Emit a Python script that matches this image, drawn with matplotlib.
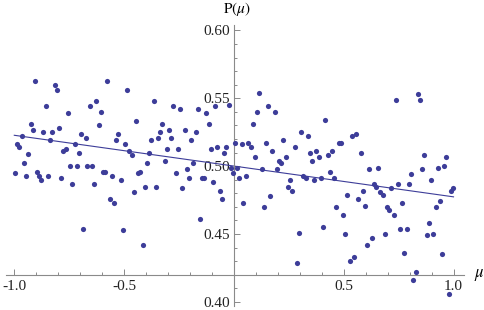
import numpy as np
import matplotlib
matplotlib.use("Agg")
import matplotlib.pyplot as plt
from matplotlib.ticker import FixedLocator, FixedFormatter, MultipleLocator

plt.rcParams['font.family'] = ['Liberation Serif', 'DejaVu Serif']
plt.rcParams['mathtext.fontset'] = 'stix'

# data
mu = [-0.989, -0.979, -0.966, -0.936, -0.925, -0.916, -0.907, -0.868, -0.857, -0.836,
      -0.827, -0.816, -0.806, -0.796, -0.777, -0.766, -0.757, -0.725, -0.707, -0.696,
      -0.675, -0.657, -0.627, -0.616, -0.607, -0.577, -0.537, -0.526, -0.496, -0.487,
      -0.476, -0.465, -0.446, -0.385, -0.376, -0.365, -0.344, -0.337, -0.326, -0.315,
      -0.305, -0.296, -0.286, -0.276, -0.256, -0.245, -0.224, -0.195, -0.174, -0.165,
      -0.126, -0.115, -0.106, -0.085, -0.076, -0.045, -0.035, -0.024, 0.006, 0.036,
      -0.998, -0.956, -0.947, -0.897, -0.886, -0.877, -0.847, -0.787, -0.746, -0.736,
      -0.716, -0.686, -0.668, -0.646, -0.636, -0.596, -0.586, -0.566, -0.555, -0.546,
      -0.515, -0.505, -0.455, -0.435, -0.426, -0.415, -0.405, -0.394, -0.355, -0.265,
      -0.235, -0.214, -0.204, -0.185, -0.154, -0.145, -0.135, -0.094, -0.065, -0.054,
      -0.015, 0.015, -0.005, 0.025, 0.043, 0.055, 0.066, 0.077, 0.086, 0.096,
      0.105, 0.116, 0.146, 0.155, 0.175, 0.186, 0.205, 0.216, 0.225, 0.236,
      0.277, 0.306, 0.336, 0.347, 0.356, 0.375, 0.386, 0.416, 0.427, 0.447,
      0.477, 0.486, 0.536, 0.556, 0.577, 0.737, 0.837, 0.847, 0.867, 0.967,
      0.127, 0.136, 0.166, 0.195, 0.246, 0.257, 0.266, 0.286, 0.296, 0.316,
      0.327, 0.366, 0.397, 0.407, 0.436, 0.457, 0.466, 0.497, 0.507, 0.516,
      0.527, 0.547, 0.566, 0.587, 0.597, 0.606, 0.617, 0.628, 0.637, 0.647,
      0.658, 0.667, 0.678, 0.687, 0.697, 0.706, 0.717, 0.728, 0.747, 0.756,
      0.767, 0.776, 0.787, 0.797, 0.808, 0.817, 0.828, 0.857, 0.878, 0.887,
      0.898, 0.908, 0.919, 0.928, 0.939, 0.948, 0.958, 0.978, 0.989, 0.999]
p_mu = [0.516, 0.514, 0.522, 0.509, 0.531, 0.527, 0.563, 0.525, 0.544, 0.519,
        0.525, 0.560, 0.556, 0.528, 0.511, 0.513, 0.539, 0.516, 0.510, 0.524,
        0.521, 0.544, 0.548, 0.530, 0.540, 0.563, 0.519, 0.524, 0.516, 0.556,
        0.511, 0.508, 0.533, 0.510, 0.519, 0.548, 0.521, 0.525, 0.531, 0.504,
        0.513, 0.527, 0.521, 0.544, 0.513, 0.542, 0.527, 0.519, 0.525, 0.542,
        0.539, 0.531, 0.513, 0.544, 0.514, 0.510, 0.514, 0.545, 0.517, 0.516,
        0.495, 0.502, 0.493, 0.496, 0.493, 0.490, 0.493, 0.491, 0.500, 0.487,
        0.500, 0.454, 0.500, 0.500, 0.487, 0.496, 0.496, 0.476, 0.493, 0.473,
        0.490, 0.453, 0.481, 0.495, 0.496, 0.442, 0.485, 0.502, 0.485, 0.495,
        0.484, 0.498, 0.491, 0.502, 0.461, 0.491, 0.491, 0.488, 0.482, 0.476,
        0.499, 0.499, 0.495, 0.491, 0.473, 0.493, 0.517, 0.514, 0.531, 0.507,
        0.540, 0.554, 0.517, 0.544, 0.511, 0.540, 0.504, 0.502, 0.519, 0.507,
        0.514, 0.525, 0.522, 0.510, 0.504, 0.511, 0.507, 0.534, 0.508, 0.511,
        0.517, 0.517, 0.522, 0.524, 0.510, 0.549, 0.553, 0.549, 0.508, 0.507,
        0.498, 0.470, 0.478, 0.498, 0.485, 0.490, 0.482, 0.429, 0.451, 0.493,
        0.491, 0.490, 0.491, 0.455, 0.496, 0.491, 0.470, 0.464, 0.450, 0.479,
        0.430, 0.433, 0.476, 0.482, 0.471, 0.442, 0.498, 0.447, 0.487, 0.485,
        0.499, 0.481, 0.479, 0.450, 0.470, 0.468, 0.484, 0.464, 0.487, 0.454,
        0.473, 0.436, 0.454, 0.487, 0.494, 0.416, 0.422, 0.498, 0.449, 0.458,
        0.490, 0.450, 0.470, 0.499, 0.474, 0.435, 0.500, 0.406, 0.482, 0.484]

x_ticks = [-1.0, -0.5, 0.5, 1.0]
x_labels = ["-1.0", "-0.5", "0.5", "1.0"]
y_ticks = [0.40, 0.45, 0.50, 0.55, 0.60]
y_labels = ["0.40", "0.45", "0.50", "0.55", "0.60"]

blue = '#3d3d99'
axis_gray = '#8a8a8a'

fig = plt.figure(figsize=(4.85, 3.10), dpi=100)
ax = fig.add_axes([5.5 / 485, 4 / 310, 459 / 485, 281 / 310])

ax.scatter(mu, p_mu, s=14, color=blue, linewidths=0, zorder=3)

# least squares line
slope, intercept = np.polyfit(mu, p_mu, 1)
xl = np.array([-1.0, 1.0])
ax.plot(xl, intercept + slope * xl, color=blue, linewidth=0.8, zorder=2)
print(slope, intercept)

ax.set_xlim(-1.04, 1.05)
ax.set_ylim(0.397, 0.604)

for s in ['top', 'right']:
    ax.spines[s].set_visible(False)
ax.spines['left'].set_position(('data', 0))
ax.spines['bottom'].set_position(('data', 0.42))
for s in ['left', 'bottom']:
    ax.spines[s].set_color(axis_gray)
    ax.spines[s].set_linewidth(0.8)

ax.xaxis.set_major_locator(FixedLocator(x_ticks))
ax.xaxis.set_major_formatter(FixedFormatter(x_labels))
ax.xaxis.set_minor_locator(MultipleLocator(0.1))
ax.yaxis.set_major_locator(FixedLocator(y_ticks))
ax.yaxis.set_major_formatter(FixedFormatter(y_labels))
ax.yaxis.set_minor_locator(MultipleLocator(0.01))

ax.tick_params(which='both', direction='in', color=axis_gray, width=0.7,
               labelsize=11, labelcolor='#222222')
ax.tick_params(which='major', length=4.5)
ax.tick_params(which='minor', length=2.5)
ax.tick_params(axis='x', pad=4)
ax.tick_params(axis='y', pad=3)
ax.patch.set_alpha(0)

fig.text(237 / 485, 1 - 9 / 310, r'$\mathrm{P}(\mu)$', ha='center', va='center', fontsize=11)
fig.text(479 / 485, 1 - 275 / 310, r'$\mu$', ha='center', va='center', fontsize=12)

plt.savefig('out.png', dpi=100)
